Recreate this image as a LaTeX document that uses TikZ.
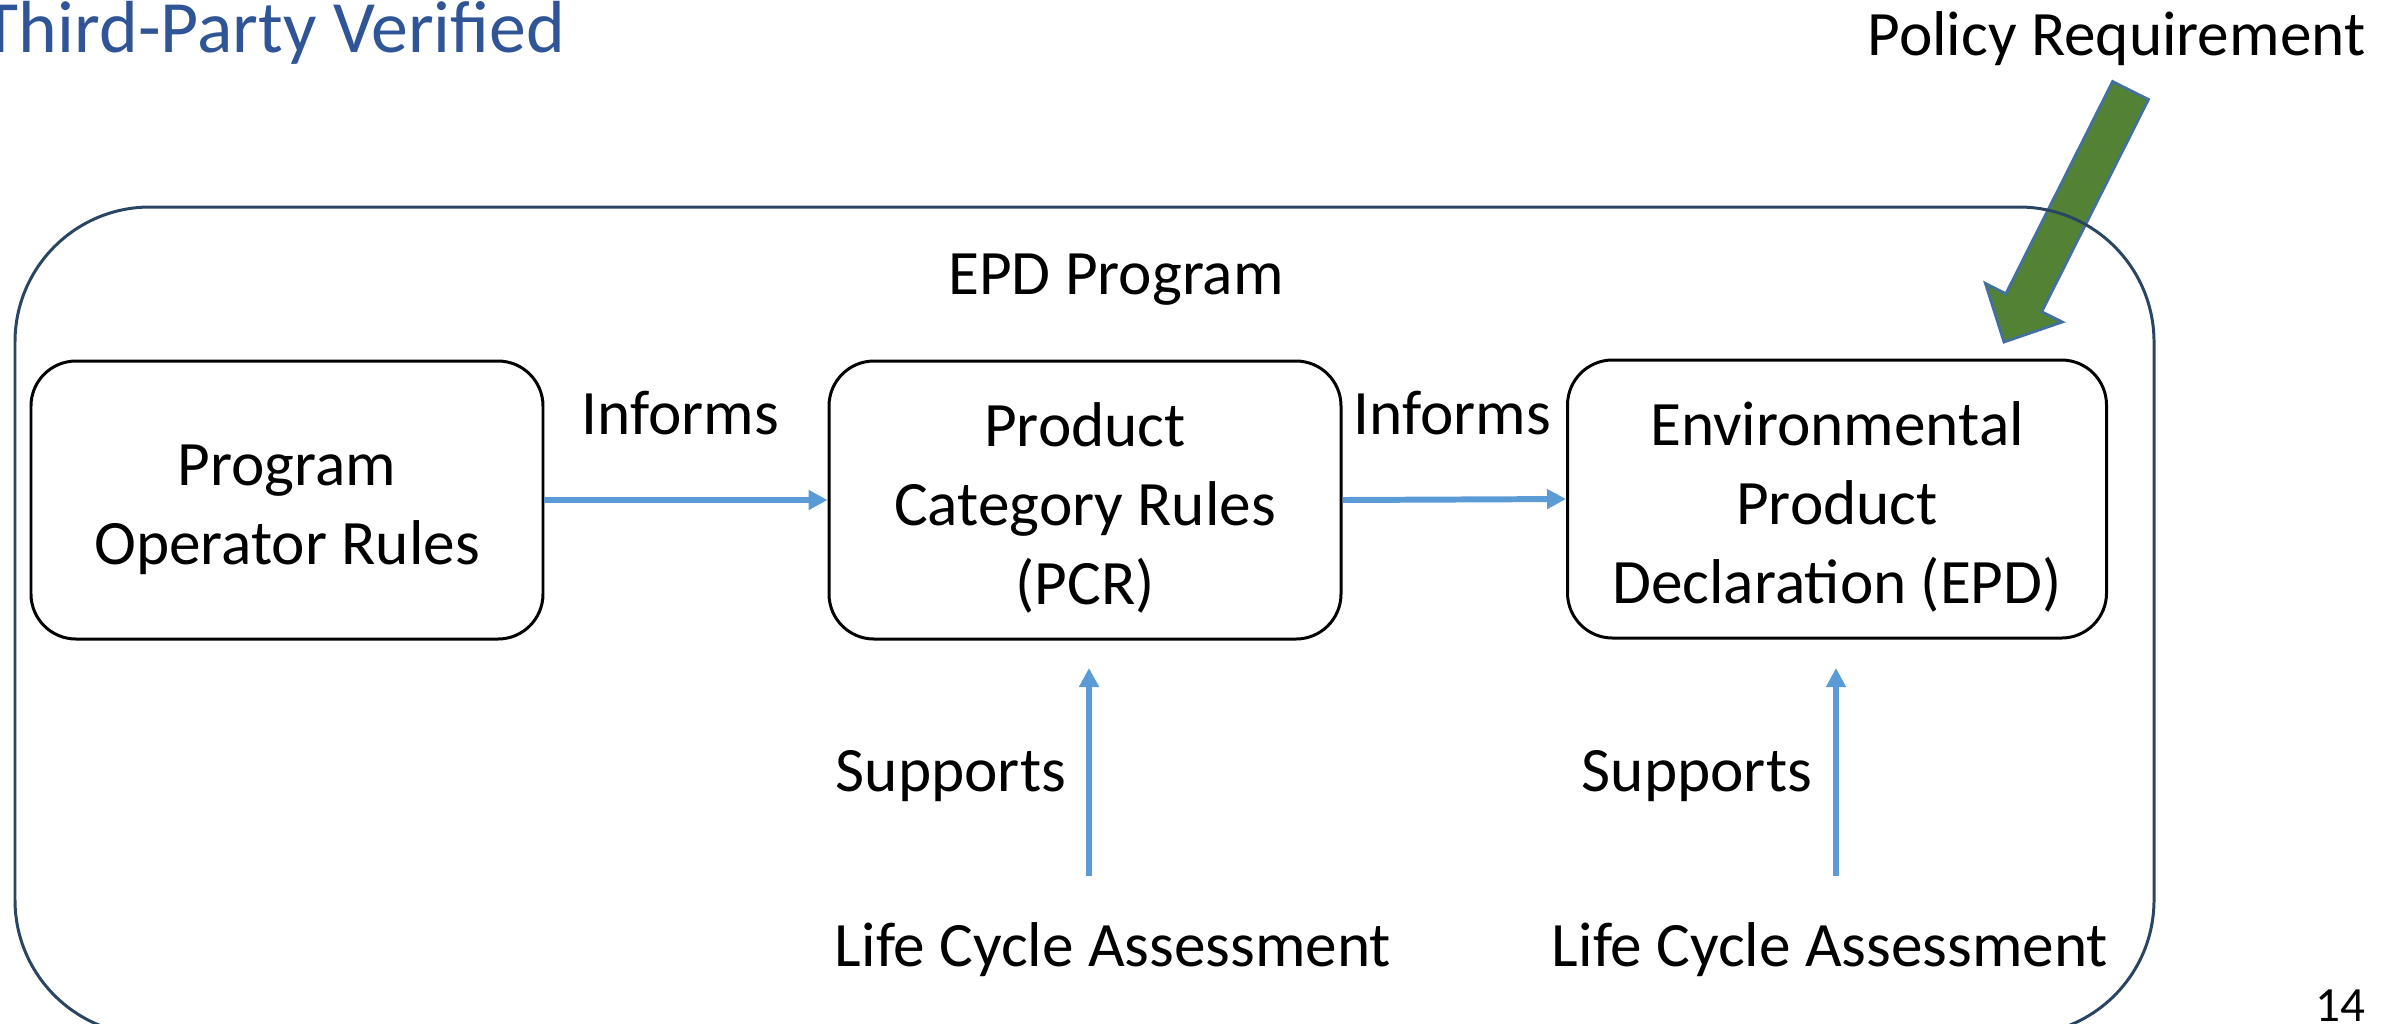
\documentclass[tikz,border=0pt]{standalone}
\usepackage{fontspec}
\setmainfont{Carlito}
\usetikzlibrary{arrows.meta}
\usepackage{xcolor}
\definecolor{arrowblue}{HTML}{5B9BD5}
\definecolor{titleblue}{HTML}{2F5597}
\definecolor{framegray}{HTML}{2A4562}
\definecolor{policygreen}{HTML}{548235}
\definecolor{policyedge}{HTML}{41719C}
\newcommand\boxtop{\rule{0pt}{17pt}}

\begin{document}
\begin{tikzpicture}[x=0.1mm, y=-0.1mm,
  box/.style={draw=black, line width=0.85pt, rounded corners=4.5mm, minimum width=51.2mm, minimum height=27.8mm, align=center, inner sep=0, font=\fontsize{18}{22.5}\selectfont},
  lbl/.style={inner sep=0, font=\fontsize{18}{22.5}\selectfont},
  link/.style={arrowblue, line width=1.7pt, -{Triangle[length=1.9mm, width=1.9mm]}}]
\useasboundingbox (0,0) rectangle (2397,1023);
\node[anchor=east, inner sep=0, titleblue, font=\fontsize{21}{25}\selectfont] (title) at (566,33) {Third-Party Verified};
\node[anchor=east, lbl] (policy) at (2366,39) {Policy Requirement};
\filldraw[fill=policygreen, draw=policyedge, line width=0.8pt] (2112.6,81.5) -- (2005.9,293.7) -- (1985.4,283.4) -- (2004,342) -- (2062.2,322) -- (2041.7,311.7) -- (2148.4,99.5) -- cycle;
\draw[framegray, line width=0.85pt, rounded corners=13.5mm] (15,207) rectangle (2154,1035);
\node[lbl] (epdprog) at (1116,280) {EPD Program};
\node[box] (por) at (287,500) {\boxtop Program\\Operator Rules};
\node[box] (pcr) at (1085,500) {\boxtop Product\\Category Rules\\(PCR)};
\node[box, minimum width=53.9mm] (epd) at (1837,499) {\boxtop Environmental\\Product\\Declaration (EPD)};
\draw[link] (por.east) -- (pcr.west);
\draw[link] (pcr.east) -- (epd.west);
\node[lbl] (inf1) at (680,413) {Informs};
\node[lbl] (inf2) at (1452,413) {Informs};
\foreach \x/\s/\l/\n in {1089/951/1113/1, 1836/1697/1830/2} {
  \coordinate (from\n) at (\x,876);
  \coordinate (to\n) at (\x,668);
  \draw[link] (from\n) -- (to\n);
  \node[lbl] (sup\n) at (\s,776) {Supports};
  \node[lbl] (lca\n) at (\l,950) {Life Cycle Assessment};
}
\node[inner sep=0, font=\fontsize{14}{16}\selectfont] (page) at (2340,1006) {14};
\end{tikzpicture}
\end{document}
